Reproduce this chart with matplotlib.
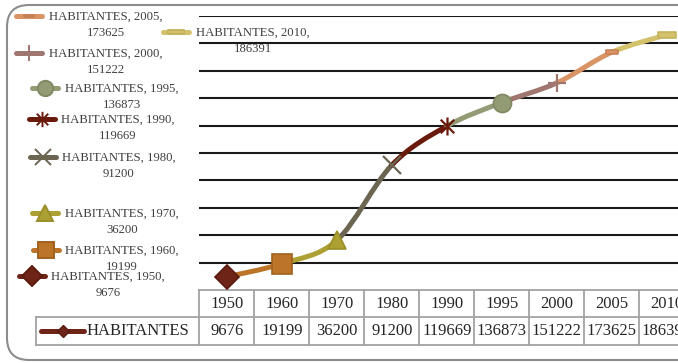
import matplotlib.pyplot as plt
from matplotlib.path import Path
from matplotlib.patches import PathPatch, FancyBboxPatch

plt.rcParams['font.family'] = ['Liberation Serif', 'DejaVu Serif']

anos = ["1950", "1960", "1970", "1980", "1990", "1995", "2000", "2005", "2010"]
habitantes = [9676, 19199, 36200, 91200, 119669, 136873, 151222, 173625, 186391]
serie = "HABITANTES"

cores = ["#6E2416", "#BC7429", "#ADA033", "#6B6552", "#6A1A0C",
         "#939B75", "#9F7670", "#D99466", "#D3C16B"]
bordas = ["#5A1C10", "#A0611F", "#9A8E2A", "#6B6552", "#6A1A0C",
          "#7F8963", "#9F7670", "#C98257", "#C4B25E"]

# marcadores especiais: traco (retangulo achatado) e asterisco
traco = [(-1, -0.28), (1, -0.28), (1, 0.28), (-1, 0.28), (-1, -0.28)]
asterisco = Path([(0, -1), (0, 1), (-0.75, -0.75), (0.75, 0.75), (-0.75, 0.75), (0.75, -0.75)],
                 [Path.MOVETO, Path.LINETO, Path.MOVETO, Path.LINETO, Path.MOVETO, Path.LINETO])
marcadores = ["D", "s", "^", "x", asterisco, "o", "+", traco, traco]
tamanhos = [12, 14, 13, 13, 13, 13, 13, 9, 13]

# posicao dos rotulos (centro da chave x, y, inicio do texto) em pixels
pos_rotulos = [(31.5, 276, 51), (45.5, 250, 65), (45, 213, 65), (42.5, 157, 62),
               (42, 119, 61), (45, 88, 65), (29, 53, 49), (29, 16, 49), (176, 32, 196)]

L, W, BASE, TOPO = 199.3, 55.0, 290.0, 16.1
fig = plt.figure(figsize=(6.78, 3.63), dpi=100)
ov = fig.add_axes([0, 0, 1, 1], zorder=3)
ov.set_xlim(0, 678)
ov.set_ylim(363, 0)
ov.axis("off")

ax = fig.add_axes([L / 678, (363 - BASE) / 363, 9 * W / 678, (BASE - TOPO) / 363], zorder=2)
ax.patch.set_alpha(0)
ax.set_xlim(-0.5, 8.5)
ax.set_ylim(0, 200000)
for s in ax.spines.values():
    s.set_visible(False)
ax.set_yticks(range(20000, 200001, 20000))
ax.set_xticks([])
ax.tick_params(length=0, labelleft=False)
ax.yaxis.grid(True, color="#1a1a1a", lw=1.5)
ax.set_axisbelow(True)

# linha suavizada, cada trecho com a cor do ponto de chegada
n = len(habitantes)
pts = [(i, v) for i, v in enumerate(habitantes)]
for i in range(n - 1):
    p0, p3 = pts[i], pts[i + 1]
    pa = pts[i - 1] if i > 0 else p0
    pb = pts[i + 2] if i + 2 < n else p3
    c1 = (p0[0] + (p3[0] - pa[0]) / 6, p0[1] + (p3[1] - pa[1]) / 6)
    c2 = (p3[0] - (pb[0] - p0[0]) / 6, p3[1] - (pb[1] - p0[1]) / 6)
    caminho = Path([p0, c1, c2, p3], [Path.MOVETO, Path.CURVE4, Path.CURVE4, Path.CURVE4])
    ax.add_patch(PathPatch(caminho, fill=False, ec=cores[i + 1], lw=3.6,
                           capstyle="round", zorder=3, clip_on=False))

for i, v in enumerate(habitantes):
    m = marcadores[i]
    linha = m in ("x", "+") or m is asterisco
    ax.plot(i, v, marker=m, ms=tamanhos[i], color=cores[i],
            mfc="none" if linha else cores[i], mec=bordas[i],
            mew=1.6 if linha else 1.2, ls="none", zorder=4, clip_on=False)

# tabela de dados
tr = ax.get_xaxis_transform()
h1 = -27.0 / (BASE - TOPO)
h2 = -55.0 / (BASE - TOPO)
esq = -0.5 - (L - 36) / W
cinza = "#A3A3A3"
for i in range(n + 1):
    ax.plot([i - 0.5, i - 0.5], [0, h2], color=cinza, lw=1.3, transform=tr, clip_on=False)
ax.plot([esq, esq], [h1, h2], color=cinza, lw=1.3, transform=tr, clip_on=False)
ax.plot([-0.5, 8.5], [0, 0], color=cinza, lw=1.3, transform=tr, clip_on=False)
ax.plot([esq, 8.5], [h1, h1], color=cinza, lw=1.3, transform=tr, clip_on=False)
ax.plot([esq, 8.5], [h2, h2], color=cinza, lw=1.3, transform=tr, clip_on=False)
for i in range(n):
    ax.text(i, h1 / 2, anos[i], ha="center", va="center", fontsize=12,
            color="#262626", transform=tr, clip_on=False)
    ax.text(i, (h1 + h2) / 2, str(habitantes[i]), ha="center", va="center",
            fontsize=12, color="#262626", transform=tr, clip_on=False)

ov.plot([41, 84], [331, 331], color=cores[0], lw=3.6, solid_capstyle="round")
ov.plot(62.5, 331, marker="D", ms=6, color=cores[0], mec=bordas[0])
ov.text(87, 331, serie, ha="left", va="center", fontsize=12, color="#262626")

# rotulos de dados com chave de legenda
for i, (kx, ky, tx) in enumerate(pos_rotulos):
    m = marcadores[i]
    linha = m in ("x", "+") or m is asterisco
    ov.plot([kx - 13, kx + 13], [ky, ky], color=cores[i], lw=3.6, solid_capstyle="round")
    ov.plot(kx, ky, marker=m, ms=tamanhos[i] * 0.85, color=cores[i],
            mfc="none" if linha else cores[i], mec=bordas[i], mew=1.4)
    ov.text(tx, ky - 5, f"{serie}, {anos[i]},\n{habitantes[i]}", ha="left", va="top",
            multialignment="center", fontsize=9.2, color="#404040", linespacing=1.45)

ov.add_patch(FancyBboxPatch((7, 5), 720, 355, boxstyle="round,pad=0,rounding_size=22",
                            fc="none", ec="#8C8C8C", lw=1.5))

fig.savefig("out.png", dpi=100)
